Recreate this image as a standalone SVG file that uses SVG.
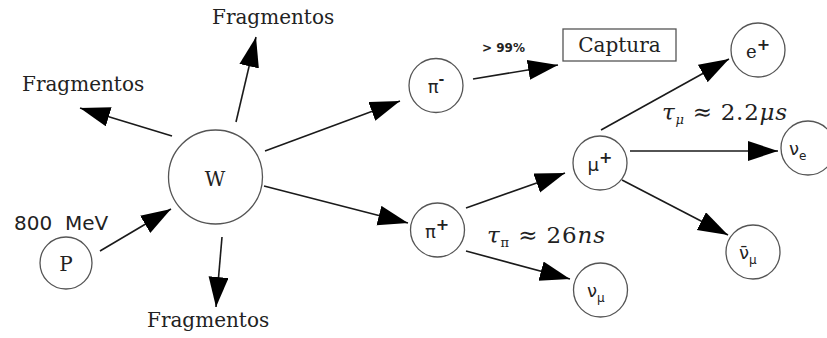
<svg xmlns="http://www.w3.org/2000/svg" width="827" height="338" viewBox="0 0 827 338">
<style>
.n{fill:#fff;stroke:#555;stroke-width:1.3}
.c line{stroke:#1a1a1a;stroke-width:1.6;marker-end:url(#ah)}
.ser{font-family:"DejaVu Serif",serif;fill:#222}
.san{font-family:"DejaVu Sans",sans-serif;fill:#222}
.mth{font-family:"DejaVu Serif",serif;fill:#222;font-size:23px}
.lbl{text-anchor:middle}
</style>
<defs>
<marker id="ah" markerUnits="userSpaceOnUse" markerWidth="32" markerHeight="22" refX="30" refY="10" orient="auto" viewBox="0 0 32 22">
<path d="M0,0 L30,10 L0,20 z" fill="#000"/>
</marker>
</defs>
<rect width="827" height="338" fill="#fff"/>
<g class="c" id="connectors">
<line x1="100" y1="251" x2="171" y2="209"/>
<line x1="222" y1="237" x2="216" y2="307"/>
<line x1="236" y1="122" x2="256" y2="37"/>
<line x1="172" y1="136" x2="80" y2="108"/>
<line x1="265" y1="151" x2="400" y2="101"/>
<line x1="264" y1="186" x2="408" y2="223"/>
<line x1="473" y1="79" x2="558" y2="65"/>
<line x1="466" y1="208" x2="565" y2="173"/>
<line x1="466" y1="251" x2="570" y2="279"/>
<line x1="601" y1="130" x2="729" y2="59"/>
<line x1="630" y1="151" x2="778" y2="151"/>
<line x1="622" y1="180" x2="728" y2="235"/>
</g>
<g id="labels">
<text class="ser" x="22" y="91" font-size="20">Fragmentos</text>
<text class="ser" x="212" y="24" font-size="20">Fragmentos</text>
<text class="ser" x="147" y="327" font-size="20">Fragmentos</text>
<text class="san" x="14" y="230" font-size="20" xml:space="preserve" style="white-space:pre">800  MeV</text>
<text class="san" x="482" y="52" font-size="12" font-weight="bold" xml:space="preserve" style="white-space:pre">&gt; 99%</text>
<text class="mth" x="487" y="243" textLength="118" lengthAdjust="spacing"><tspan font-style="italic">τ</tspan><tspan font-size="13" dy="4">π</tspan><tspan dy="-4"> ≈ 26</tspan><tspan font-style="italic">ns</tspan></text>
<text class="mth" x="662" y="120" textLength="125" lengthAdjust="spacing"><tspan font-style="italic">τ</tspan><tspan font-size="13" font-style="italic" dy="4">μ</tspan><tspan dy="-4"> ≈ 2.2</tspan><tspan font-style="italic">μs</tspan></text>
</g>
<g id="node-P"><circle class="n" cx="66" cy="263" r="26"/><text class="ser lbl" x="66" y="271" font-size="20">P</text></g>
<g id="node-W"><circle class="n" cx="215.5" cy="177" r="47"/><text class="ser lbl" x="215" y="186" font-size="20">W</text></g>
<g id="node-pim"><circle class="n" cx="436" cy="85.5" r="27"/><text class="san lbl" x="436" y="93" font-size="18">π<tspan font-size="14" dy="-9" font-weight="bold">-</tspan></text></g>
<g id="node-pip"><circle class="n" cx="437.5" cy="230" r="27"/><text class="san lbl" x="437" y="238" font-size="18">π<tspan font-size="16" dy="-8" font-weight="bold">+</tspan></text></g>
<g id="node-captura"><rect class="n" x="563" y="29" width="113" height="32"/><text class="ser lbl" x="619.5" y="52" font-size="20">Captura</text></g>
<g id="node-mu"><circle class="n" cx="600" cy="163" r="27"/><text class="san lbl" x="600" y="171" font-size="18">μ<tspan font-size="16" dy="-8" font-weight="bold">+</tspan></text></g>
<g id="node-e"><circle class="n" cx="758" cy="50" r="27"/><text class="ser lbl" x="758" y="58" font-size="18">e<tspan font-size="16" dy="-8" font-weight="bold" font-family="DejaVu Sans">+</tspan></text></g>
<g id="node-nue"><circle class="n" cx="808" cy="148" r="27"/><text class="san" x="789" y="155" font-size="18">ν<tspan font-size="12" dy="5">e</tspan></text></g>
<g id="node-numubar"><circle class="n" cx="753" cy="252" r="27"/><text class="san" x="739" y="259" font-size="18">ν̄<tspan font-size="12" dy="5">μ</tspan></text></g>
<g id="node-numu"><circle class="n" cx="600.5" cy="290" r="27"/><text class="san" x="587" y="297" font-size="18">ν<tspan font-size="12" dy="5">μ</tspan></text></g>
</svg>
